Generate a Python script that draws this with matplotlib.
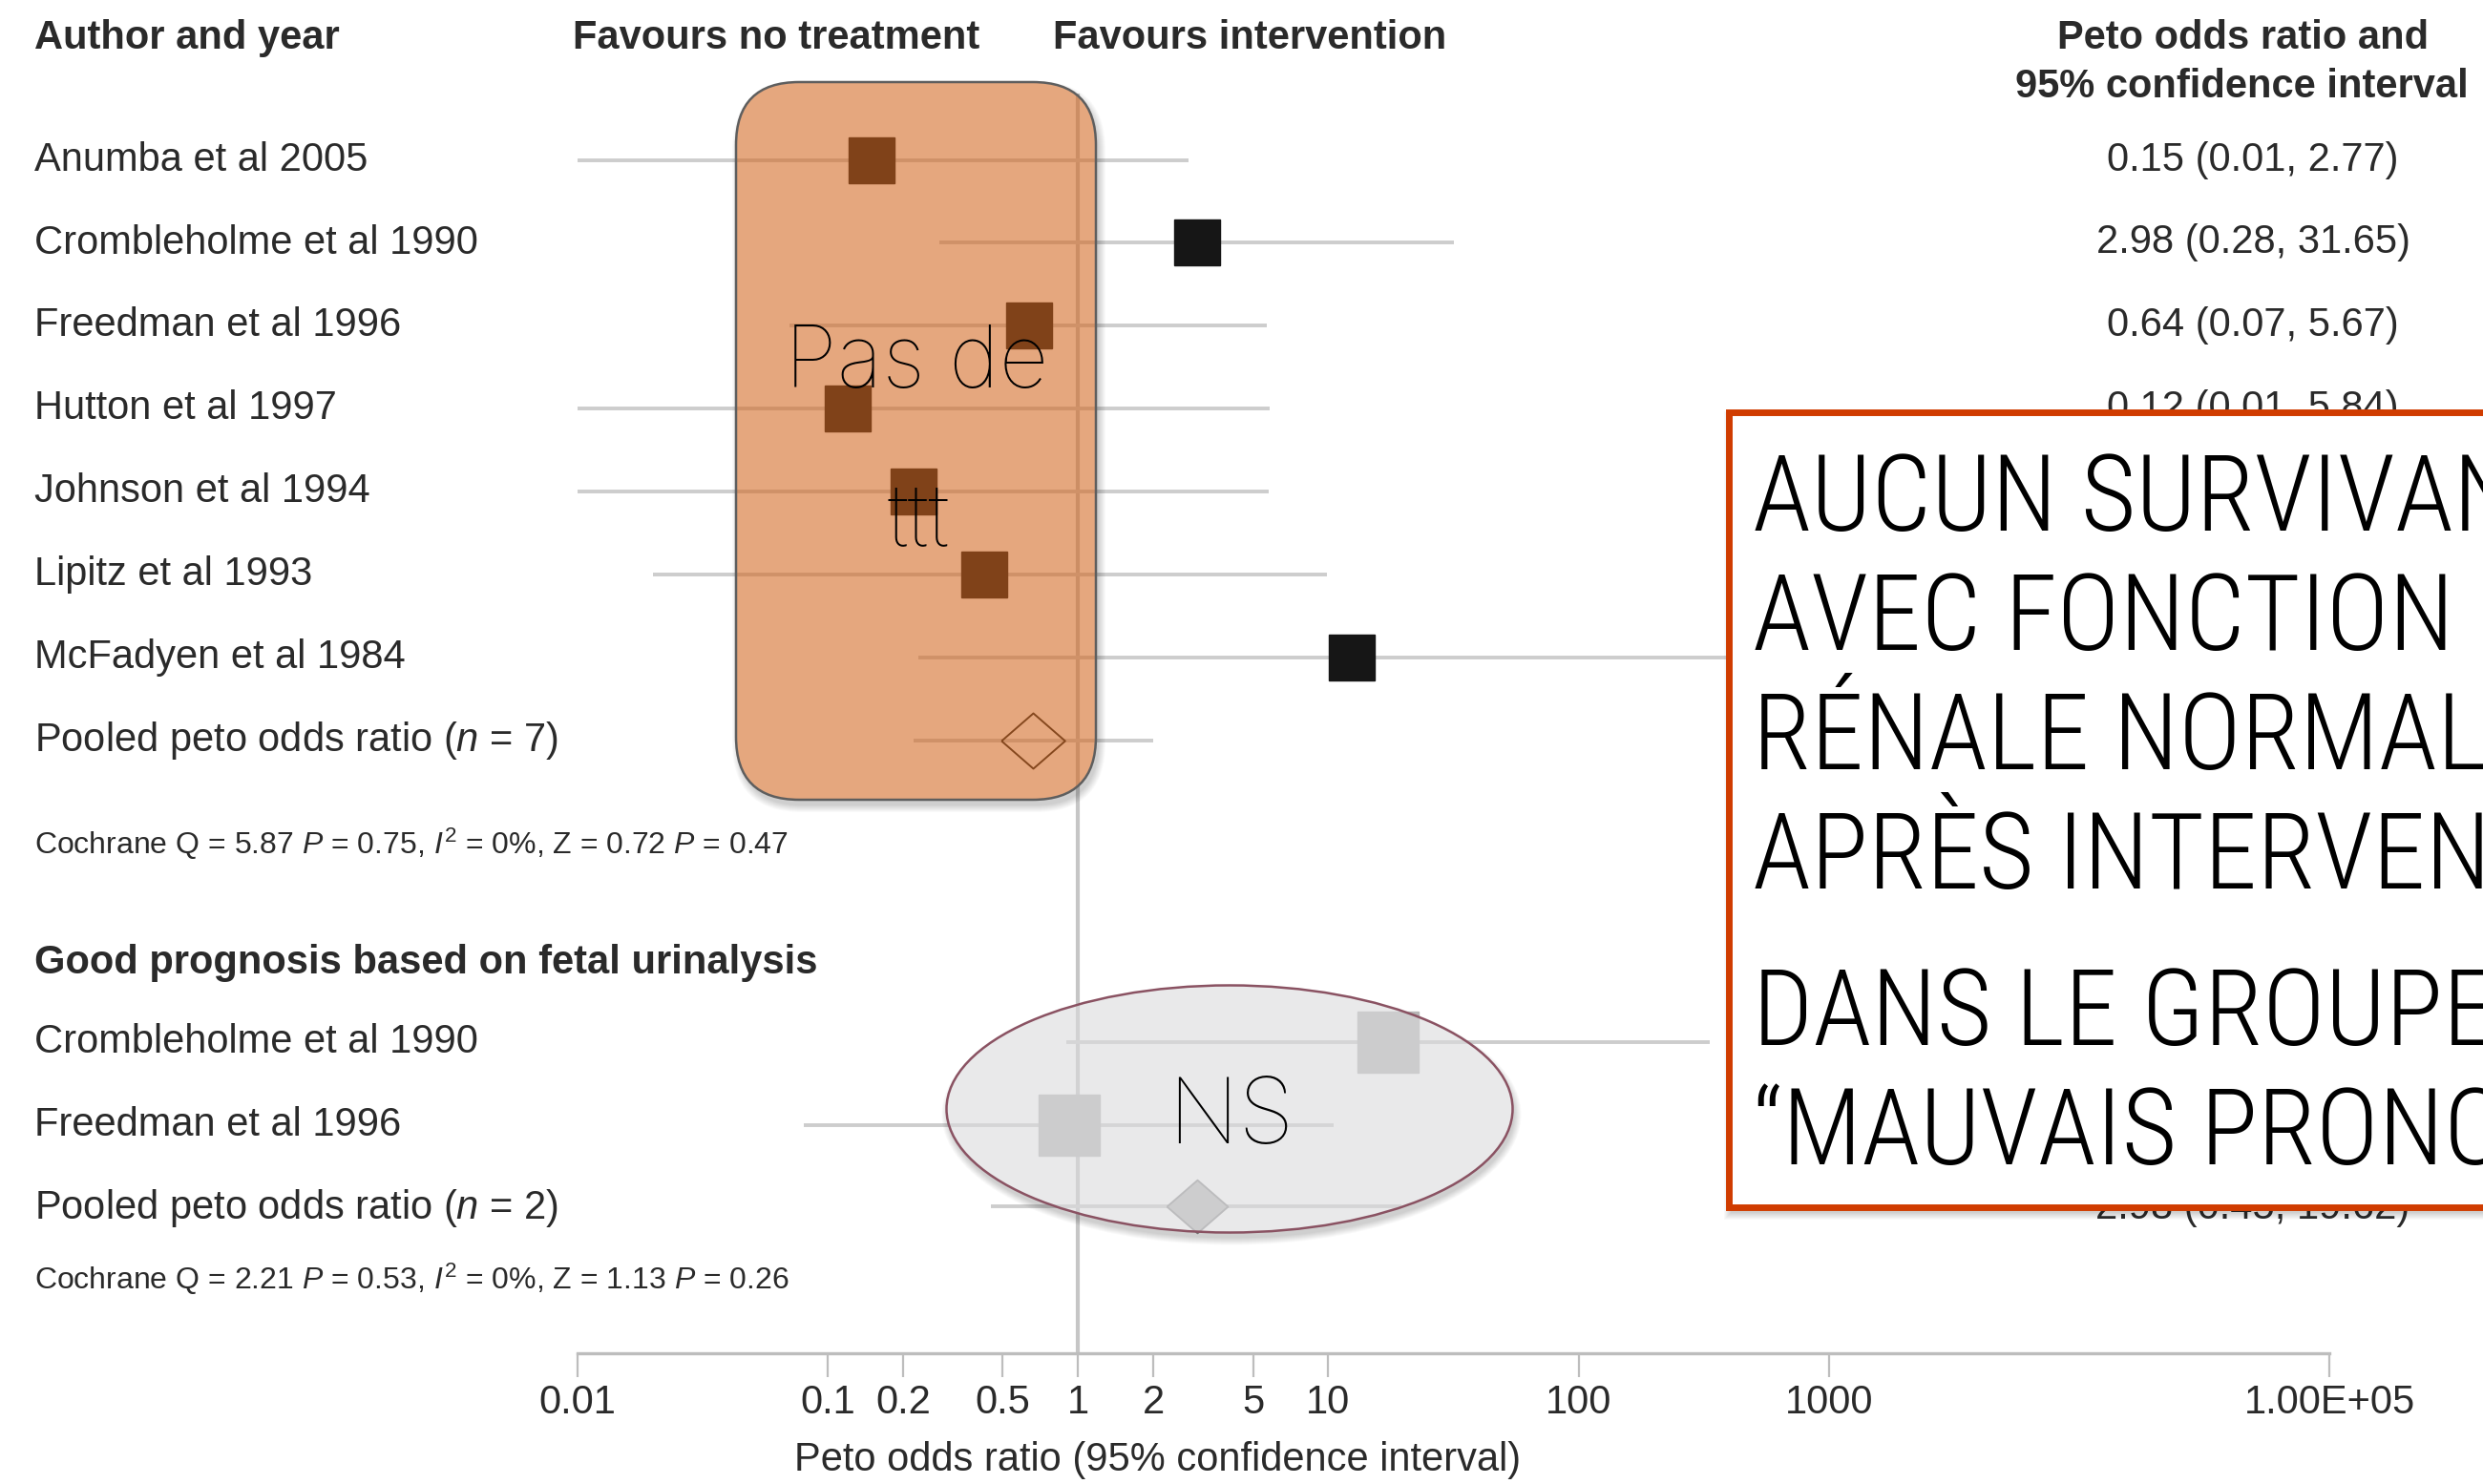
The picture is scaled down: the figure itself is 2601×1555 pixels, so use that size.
import matplotlib
matplotlib.use("Agg")
import matplotlib.pyplot as plt
import numpy as np
from matplotlib import font_manager
from matplotlib.font_manager import FontProperties
from matplotlib.patches import FancyBboxPatch, Ellipse, Rectangle
from matplotlib.path import Path
from matplotlib.ticker import FixedLocator, FixedFormatter, NullLocator
from matplotlib.transforms import Affine2D, blended_transform_factory

plt.rcParams['font.family'] = ['Liberation Sans', 'DejaVu Sans']
plt.rcParams['mathtext.fontset'] = 'custom'
plt.rcParams['mathtext.rm'] = 'Liberation Sans'
plt.rcParams['mathtext.it'] = 'Liberation Sans:italic'
plt.rcParams['mathtext.bf'] = 'Liberation Sans:bold'

# poor prognosis studies (top block)
poor_studies = ["Anumba et al 2005", "Crombleholme et al 1990", "Freedman et al 1996",
                "Hutton et al 1997", "Johnson et al 1994", "Lipitz et al 1993",
                "McFadyen et al 1984"]
poor_or = [0.15, 2.98, 0.64, 0.12, 0.22, 0.42, 12.40]
poor_lo = [0.01, 0.28, 0.07, 0.01, 0.01, 0.02, 0.23]
poor_hi = [2.77, 31.65, 5.67, 5.84, 5.80, 9.90, 679.00]
poor_pooled = [0.66, 0.22, 2.00]
poor_pooled_label = r"Pooled peto odds ratio ($\mathit{n}$ = 7)"
poor_stats = r"Cochrane Q = 5.87 $\mathit{P}$ = 0.75, $\mathit{I}^{2}$ = 0%, Z = 0.72 $\mathit{P}$ = 0.47"

# good prognosis studies (bottom block)
good_heading = "Good prognosis based on fetal urinalysis"
good_studies = ["Crombleholme et al 1990", "Freedman et al 1996"]
good_or = [17.30, 0.92]
good_lo = [0.90, 0.08]
good_hi = [333.10, 10.50]
good_pooled = [2.98, 0.45, 19.62]
good_pooled_label = r"Pooled peto odds ratio ($\mathit{n}$ = 2)"
good_stats = r"Cochrane Q = 2.21 $\mathit{P}$ = 0.53, $\mathit{I}^{2}$ = 0%, Z = 1.13 $\mathit{P}$ = 0.26"

tick_values = [0.01, 0.1, 0.2, 0.5, 1, 2, 5, 10, 100, 1000, 1e5]
tick_labels = ["0.01", "0.1", "0.2", "0.5", "1", "2", "5", "10", "100", "1000", "1.00E+05"]

note_lines = ["AUCUN SURVIVANT", "AVEC FONCTION", "RÉNALE NORMALE",
              "APRÈS INTERVENTION", "DANS LE GROUPE", "\u201cMAUVAIS PRONOSTIC\u201d"]


def font_weights():
    faces = {}
    for f in font_manager.fontManager.ttflist:
        if f.style != 'normal':
            continue
        w = f.weight
        if not isinstance(w, (int, float)):
            w = font_manager.weight_dict.get(w, 400)
        faces.setdefault(f.name, []).append(w)
    return faces


def pick_face(choices, faces):
    for fam, limit in choices:
        if fam in faces and min(faces[fam]) <= limit:
            return FontProperties(family=fam, weight=min(faces[fam]))
    return FontProperties(family='DejaVu Sans', weight=200)


faces = font_weights()
# hairline face for the short notes, condensed one for the boxed note
hair_face = pick_face([('Roboto', 200), ('Lato', 200), ('Inter', 200), ('Open Sans', 300)], faces)
narrow_face = pick_face([('Roboto Condensed', 300), ('Roboto', 200), ('Lato', 200)], faces)


def with_size(fp, size):
    fp = fp.copy()
    fp.set_size(size)
    return fp


W, H = 2601, 1555
fig = plt.figure(figsize=(W / 100, H / 100), dpi=100)
fig.patch.set_facecolor('white')
# pixel coordinates, origin at top left
px = Affine2D().scale(1 / W, -1 / H).translate(0, 1) + fig.transFigure

row0, row_step, axis_y = 167.6, 86.9, 1418
ax = fig.add_axes([605 / W, (H - axis_y) / H, 1835 / W, axis_y / H])
ax.set_xscale('log')
ax.set_xlim(0.01, 1e5)
ax.set_ylim((axis_y - row0) / row_step, -row0 / row_step)
ax.patch.set_alpha(0)

poor_rows = np.arange(len(poor_studies))
poor_pool_row = len(poor_studies)
poor_stats_row = 8.25
good_head_row = 9.68
good_rows = 10.64 + np.arange(len(good_studies))
good_pool_row = 12.62
good_stats_row = 13.49

line_c = '#CDCDCD'
ax.vlines(1, -0.8, ax.get_ylim()[0], color='#C6C6C6', lw=3, zorder=1)
ax.hlines(poor_rows, poor_lo, poor_hi, color=line_c, lw=2.8, zorder=1)
ax.hlines(poor_pool_row, poor_pooled[1], poor_pooled[2], color=line_c, lw=2.8, zorder=1)
ax.hlines(good_rows, good_lo, good_hi, color=line_c, lw=2.8, zorder=1)
ax.hlines(good_pool_row, good_pooled[1], good_pooled[2], color=line_c, lw=2.8, zorder=1)

ax.plot(poor_or, poor_rows, 's', ms=35, color='#161616', zorder=3)
ax.plot(good_or, good_rows, 's', ms=46, color='#B6B6B6', zorder=3)
diamond = [(-1, 0), (0, 0.87), (1, 0), (0, -0.87), (-1, 0)]
ax.plot(poor_pooled[0], poor_pool_row, marker=diamond, ms=48, mfc='none',
        mec='#222222', mew=1.4, zorder=3)
ax.plot(good_pooled[0], good_pool_row, marker=diamond, ms=46, mfc='#BABABA',
        mec='#909090', mew=1.4, zorder=3)

# axis styling
for s in ['top', 'left', 'right']:
    ax.spines[s].set_visible(False)
ax.spines['bottom'].set_color('#BDBDBD')
ax.spines['bottom'].set_linewidth(2.4)
ax.xaxis.set_major_locator(FixedLocator(tick_values))
ax.xaxis.set_major_formatter(FixedFormatter(tick_labels))
ax.xaxis.set_minor_locator(NullLocator())
ax.tick_params(axis='x', direction='out', length=18, width=1.6, color='#BDBDBD',
               labelsize=30, labelcolor='#2a2a2a', pad=5)
ax.set_yticks([])

# text columns
txt_c = '#2a2a2a'
left = blended_transform_factory(fig.transFigure, ax.transData)
lx = 36 / W
vx = 2360 / W
for name, r in zip(poor_studies, poor_rows):
    ax.text(lx, r, name, transform=left, fontsize=30, color=txt_c, va='center', clip_on=False)
ax.text(lx, poor_pool_row, poor_pooled_label, transform=left, fontsize=30, color=txt_c,
        va='center', clip_on=False)
ax.text(lx, poor_stats_row, poor_stats, transform=left, fontsize=23, color=txt_c,
        va='center', clip_on=False)
ax.text(lx, good_head_row, good_heading, transform=left, fontsize=30, color=txt_c,
        fontweight='bold', va='center', clip_on=False)
for name, r in zip(good_studies, good_rows):
    ax.text(lx, r, name, transform=left, fontsize=30, color=txt_c, va='center', clip_on=False)
ax.text(lx, 12.64, good_pooled_label, transform=left, fontsize=30, color=txt_c,
        va='center', clip_on=False)
ax.text(lx, good_stats_row, good_stats, transform=left, fontsize=23, color=txt_c,
        va='center', clip_on=False)


def ci_text(v, lo, hi):
    return f"{v:.2f} ({lo:.2f}, {hi:.2f})"


for v, lo, hi, r in zip(poor_or, poor_lo, poor_hi, poor_rows):
    ax.text(vx, r, ci_text(v, lo, hi), transform=left, fontsize=30, color=txt_c,
            ha='center', va='center', clip_on=False)
ax.text(vx, poor_pool_row, ci_text(*poor_pooled), transform=left, fontsize=30, color=txt_c,
        ha='center', va='center', clip_on=False)
for v, lo, hi, r in zip(good_or, good_lo, good_hi, good_rows):
    ax.text(vx, r, ci_text(v, lo, hi), transform=left, fontsize=30, color=txt_c,
            ha='center', va='center', clip_on=False)
ax.text(vx, 12.64, ci_text(*good_pooled), transform=left, fontsize=30, color=txt_c,
        ha='center', va='center', clip_on=False)

# headers
hdr = dict(transform=px, fontsize=30, fontweight='bold', color=txt_c, va='baseline')
fig.text(36, 51, "Author and year", **hdr)
fig.text(600, 51, "Favours no treatment", **hdr)
fig.text(1103, 51, "Favours intervention", **hdr)
fig.text(2350, 51, "Peto odds ratio and", ha='center', **hdr)
fig.text(2348, 102, "95% confidence interval", ha='center', **hdr)
fig.text(1213, 1530, "Peto odds ratio (95% confidence interval)", transform=px, fontsize=30,
         color=txt_c, va='center', ha='center')


def outside_of(patch):
    # clip path: the whole figure with the patch outline cut out
    inner = patch.get_path().to_polygons(patch.get_patch_transform(), closed_only=True)[0]
    outer = np.array([[-50, -50], [W + 50, -50], [W + 50, H + 50], [-50, H + 50], [-50, -50]],
                     dtype=float)

    def area(p):
        return 0.5 * np.sum(p[:-1, 0] * p[1:, 1] - p[1:, 0] * p[:-1, 1])

    if np.sign(area(inner)) == np.sign(area(outer)):
        inner = inner[::-1]
    return Path.make_compound_path(Path(outer, closed=True), Path(inner, closed=True))


def soft_shadow(make, clip, zorder):
    for k in range(8):
        p = make(k)
        p.set_clip_path(clip, px)
        fig.add_artist(p)
        p.set_zorder(zorder)


# orange highlight over the no-treatment side
ox, oy, ow, oh, orr = 771, 86, 377, 752, 66
orange = FancyBboxPatch((ox, oy), ow, oh, boxstyle=f"round,pad=0,rounding_size={orr}",
                        transform=px, fc=(0.824, 0.396, 0.110, 0.57), ec='#5e5e5e',
                        lw=1.8, zorder=5)
soft_shadow(lambda k: FancyBboxPatch((ox + 3 - k, oy + 6 - k), ow + 2 * k, oh + 2 * k,
                                     boxstyle=f"round,pad=0,rounding_size={orr + k}",
                                     transform=px, fc=(0, 0, 0, 0.025), ec='none'),
            outside_of(orange), 4)
fig.add_artist(orange)
fig.text(960, 405, "Pas de", transform=px, fontproperties=with_size(hair_face, 65),
         color='black', ha='center', va='baseline', zorder=7)
fig.text(962, 573, "ttt", transform=px, fontproperties=with_size(hair_face, 65),
         color='black', ha='center', va='baseline', zorder=7)

# grey ellipse over the good prognosis block
ecx, ecy, ew, eh = 1288, 1162, 593, 259
oval = Ellipse((ecx, ecy), ew, eh, transform=px, fc=(0.86, 0.86, 0.865, 0.6),
               ec='#8a5262', lw=1.8, zorder=5)
soft_shadow(lambda k: Ellipse((ecx + 2, ecy + 6), ew + 2 * k, eh + 2 * k, transform=px,
                              fc=(0, 0, 0, 0.022), ec='none'),
            outside_of(oval), 4)
fig.add_artist(oval)
fig.text(1289, 1198, "NS", transform=px, fontproperties=with_size(hair_face, 69),
         color='black', ha='center', va='baseline', zorder=7)

# red note box, running off the right edge
bx, by, bw, bh = 1811, 432, 900, 833
for k in range(8):
    fig.add_artist(Rectangle((bx + 2 - k, by + 6 - k), bw + 2 * k, bh + 2 * k, transform=px,
                             fc=(0, 0, 0, 0.025), ec='none', zorder=5))
fig.add_artist(Rectangle((bx, by), bw, bh, transform=px, fc='white', ec='#D03C00', lw=5,
                         zorder=6))
baselines = [556, 681, 806, 931, 1095, 1220]
for line, yb in zip(note_lines, baselines):
    fig.text(1836, yb, line, transform=px, fontproperties=with_size(narrow_face, 80),
             color='black', ha='left', va='baseline', zorder=7)

fig.savefig("out.png", dpi=100, facecolor='white')
